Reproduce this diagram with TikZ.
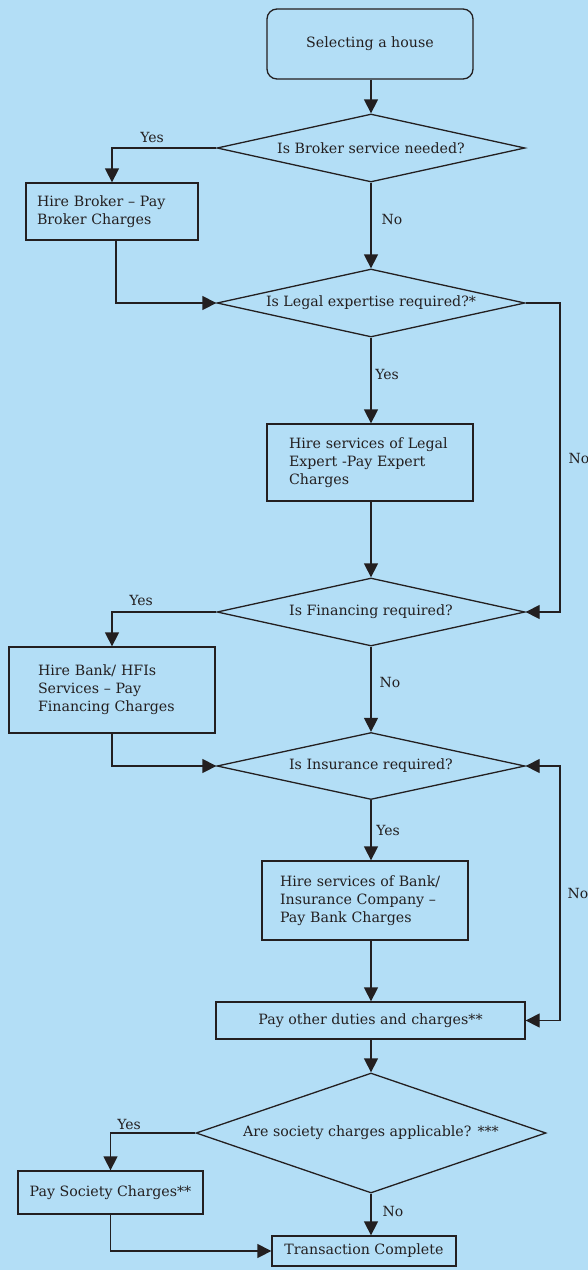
\documentclass[tikz,border=0pt]{standalone}
\usepackage{fontspec}
\setmainfont{DejaVu Serif}
\usetikzlibrary{shapes.geometric,arrows.meta}
\definecolor{bg}{HTML}{B3DEF6}
\definecolor{ink}{HTML}{231F20}
\tikzset{
  base/.style={draw=ink, line width=1.3pt, text=ink, font=\fontsize{14.2}{18}\selectfont},
  startbox/.style={base, rectangle, rounded corners=10pt, minimum width=206pt, minimum height=70pt, inner sep=0pt},
  leftbox/.style={base, rectangle, align=left, inner ysep=0pt},
  midbox/.style={base, rectangle, inner sep=0pt},
  decision/.style={base, diamond, shape aspect=4.5, inner sep=0pt},
  arr/.style={draw=ink, line width=1.3pt, -{Triangle[length=14pt,width=14pt]}},
  plain/.style={draw=ink, line width=1.3pt},
  lbl/.style={text=ink, font=\fontsize{14}{16}\selectfont, inner sep=0pt}
}
\begin{document}
\begin{tikzpicture}[x=1pt,y=-1pt]
\fill[bg] (0,0) rectangle (588,1270);
\useasboundingbox (0,0) rectangle (588,1270);

\node[startbox] (start) at (370,44) {Selecting a house};

\node[decision, minimum width=308pt, minimum height=68pt] (d1) at (371,148) {Is Broker service needed?};
\node[leftbox, text width=150pt, inner xsep=11pt, minimum height=57pt] (broker) at (112,211.5) {Hire Broker -- Pay\\Broker Charges};

\node[decision, minimum width=308pt, minimum height=68pt] (d2) at (371,303) {Is Legal expertise required?*};
\node[leftbox, text width=162pt, inner xsep=22pt, minimum height=77pt] (legal) at (370,462.5) {Hire services of Legal\\Expert -Pay Expert\\Charges};

\node[decision, minimum width=308pt, minimum height=68pt] (d3) at (371,612) {Is Financing required?};
\node[leftbox, text width=148pt, inner xsep=29pt, minimum height=86pt] (bank) at (112,690) {Hire Bank/ HFIs\\Services -- Pay\\Financing Charges};

\node[decision, minimum width=308pt, minimum height=67pt] (d4) at (371,766) {Is Insurance required?};
\node[leftbox, text width=170pt, inner xsep=18pt, minimum height=79pt] (ins) at (365,900.5) {Hire services of Bank/\\Insurance Company --\\Pay Bank Charges};

\node[midbox, minimum width=309pt, minimum height=37pt] (other) at (370.5,1020.5) {Pay other duties and charges**};

\node[decision, minimum width=350pt, minimum height=120pt, shape aspect=2.9] (d5) at (371,1133) {Are society charges applicable? ***};
\node[midbox, minimum width=185pt, minimum height=43pt] (soc) at (110.5,1192.5) {Pay Society Charges**};
\node[midbox, minimum width=184pt, minimum height=30pt] (tc) at (364,1251) {Transaction Complete};

\coordinate (loopa) at (560,458);
\coordinate (loopb) at (560,893);

% connectors
\draw[arr] (start.south -| d1.north) -- (d1.north);
\draw[arr] (d1.west) -| (broker.north);
\node[lbl] (y1) at (152,137) {Yes};
\draw[arr] (d1.south) -- (d2.north);
\node[lbl] (n1) at (392,219) {No};
\draw[arr] ([xshift=4pt]broker.south) |- (d2.west);

\draw[plain] (d2.east) -| (loopa);
\draw[arr] (loopa) |- (d3.east);
\node[lbl] (n2) at (579,458) {No};
\draw[arr] (d2.south) -- (d2.south |- legal.north);
\node[lbl] (y2) at (387,374) {Yes};
\draw[arr] (d2.south |- legal.south) -- (d3.north);

\draw[arr] (d3.west) -| (bank.north);
\node[lbl] (y3) at (141,600) {Yes};
\draw[arr] (d3.south) -- (d4.north);
\node[lbl] (n3) at (390,682) {No};
\draw[arr] (bank.south) |- (d4.west);

\draw[arr] (d4.south) -- (d4.south |- ins.north);
\node[lbl] (y4) at (388,830) {Yes};
\draw[arr] (d4.south |- ins.south) -- (d4.south |- other.north);
\draw[arr] (loopb) |- (d4.east);
\draw[arr] (loopb) |- (other.east);
\node[lbl] (n4) at (578,893) {No};

\draw[arr] (d4.south |- other.south) -- (d5.north);
\draw[arr] (d5.west) -| (soc.north);
\node[lbl] (y5) at (129,1124) {Yes};
\draw[arr] (d5.south) -- (d5.south |- tc.north);
\node[lbl] (n5) at (393,1211) {No};
\draw[arr] (soc.south) |- (tc.west);
\end{tikzpicture}
\end{document}
